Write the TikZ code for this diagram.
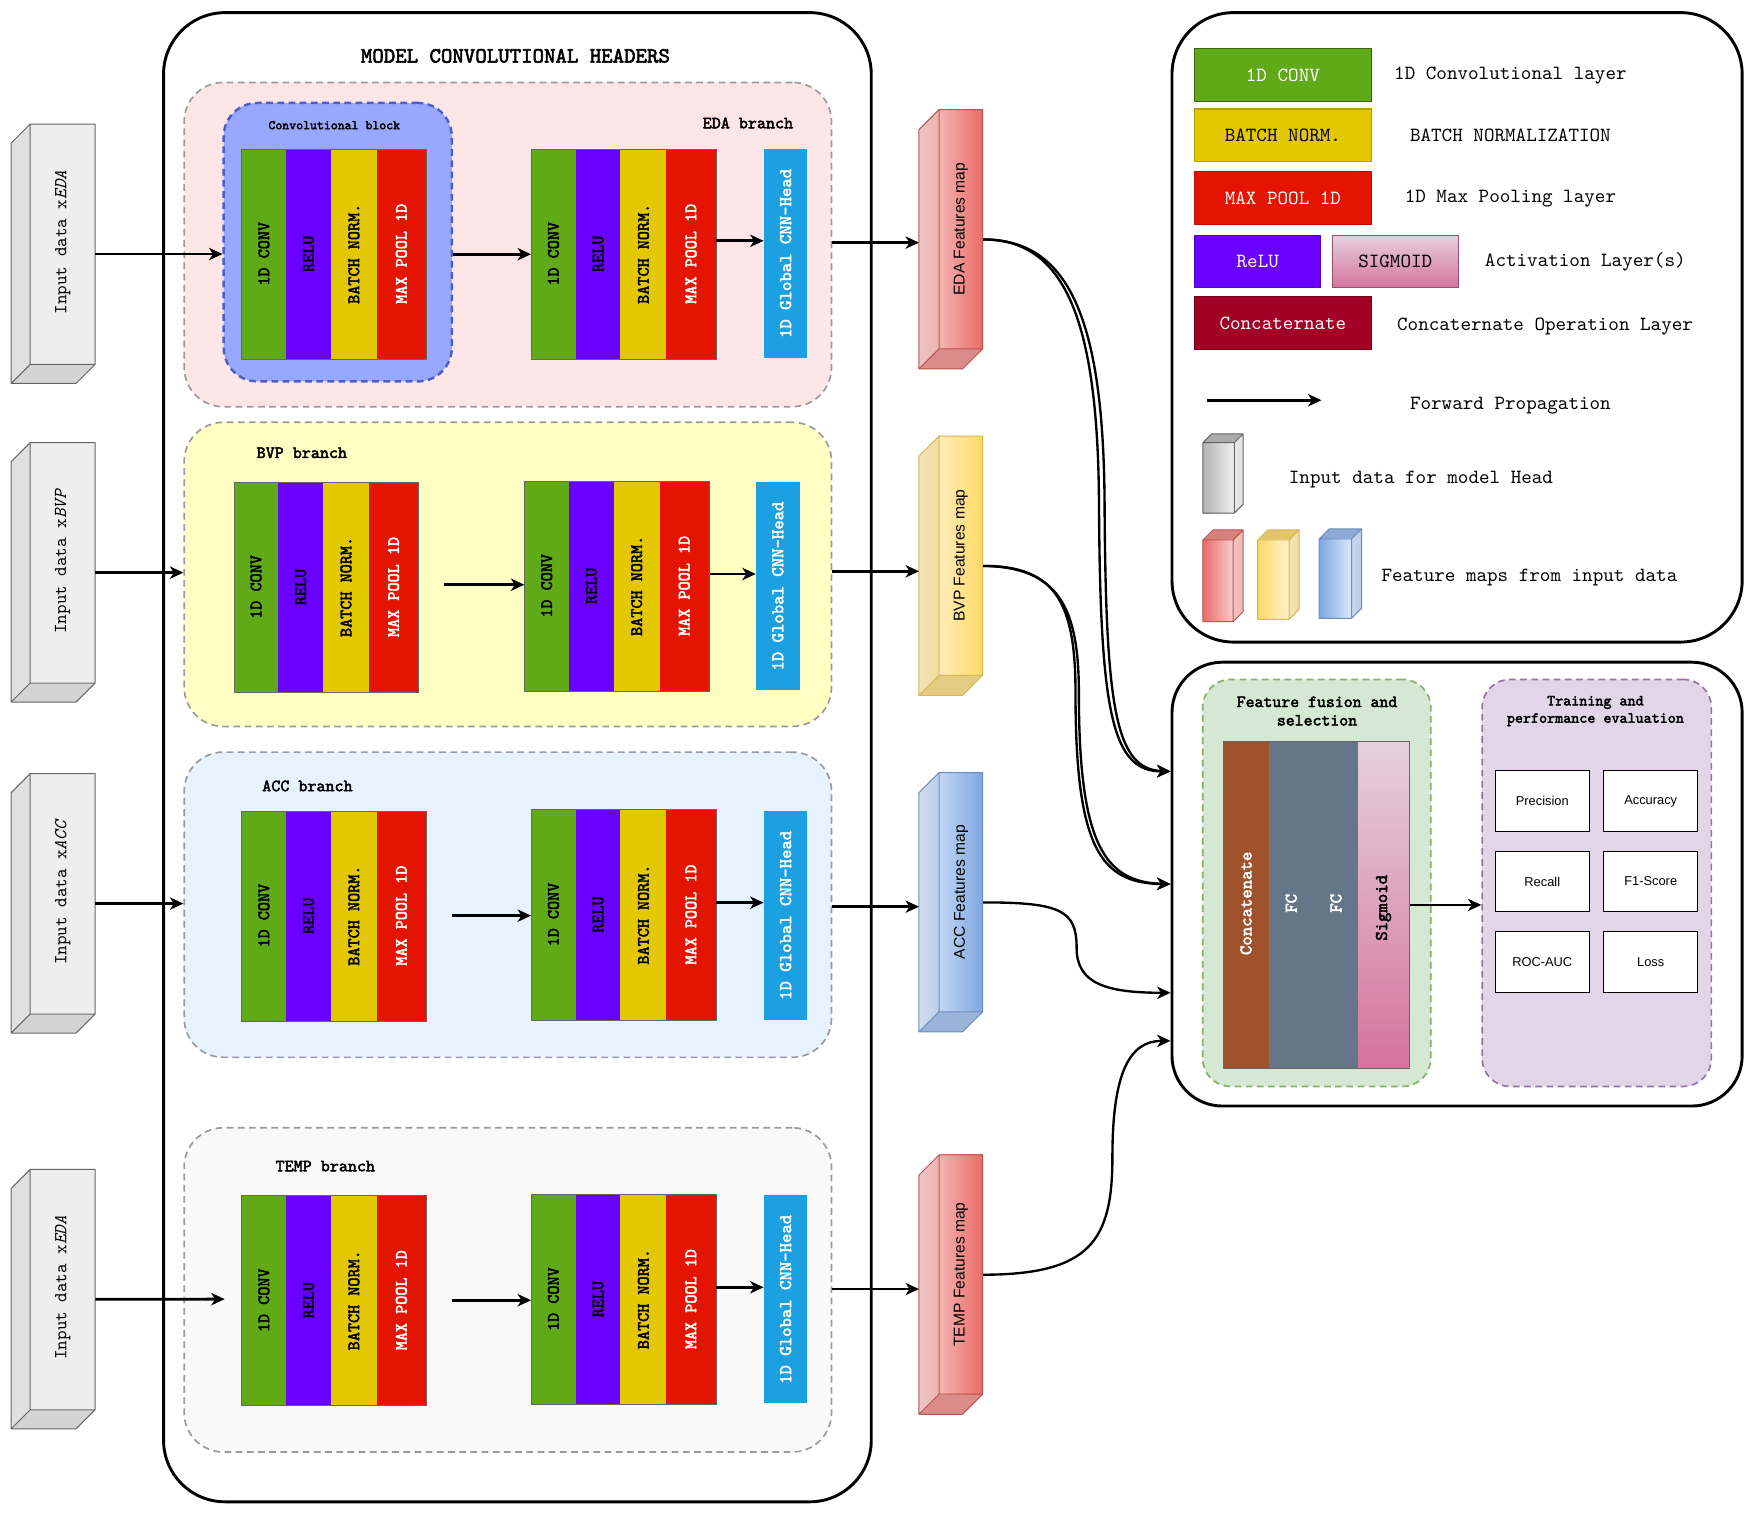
\documentclass[tikz,border=0pt]{standalone}
\usepackage{fontspec}
\newfontfamily\mono{lmmono10-regular.otf}[BoldFont=lmmono10-regular.otf,BoldFeatures={FakeBold=2.6},ItalicFont=lmmono10-italic.otf]
\newfontfamily\arial{Liberation Sans}
\usetikzlibrary{arrows.meta,calc}
\definecolor{cgreen}{HTML}{60A917}
\definecolor{cpurple}{HTML}{6A00FF}
\definecolor{cyellow}{HTML}{E3C800}
\definecolor{cred}{HTML}{E51400}
\definecolor{chead}{HTML}{1BA1E2}
\definecolor{cconcat}{HTML}{A20025}
\definecolor{cbrown}{HTML}{A0522D}
\definecolor{cslate}{HTML}{647687}
\definecolor{csigA}{HTML}{E6D0DE}
\definecolor{csigB}{HTML}{D5739D}
\definecolor{edafill}{HTML}{FFE6E6}
\definecolor{bvpfill}{HTML}{FFFFC4}
\definecolor{accfill}{HTML}{E6F2FF}
\definecolor{tempfill}{HTML}{F9F9F9}
\definecolor{convfill}{HTML}{99A8FF}
\definecolor{convline}{HTML}{4A5FC8}
\definecolor{dashgray}{HTML}{9A9A9A}
\definecolor{fusfill}{HTML}{D5E8D4}
\definecolor{fusline}{HTML}{82B366}
\definecolor{trfill}{HTML}{E1D5E7}
\definecolor{trline}{HTML}{9673A6}
\definecolor{stkline}{HTML}{666666}
\definecolor{redline}{HTML}{B85450}
\definecolor{yelline}{HTML}{D6B656}
\definecolor{bluline}{HTML}{6C8EBF}
\definecolor{grayline}{HTML}{666666}

% cuboid, depth towards lower left
\newcommand\cubeLL[7]{%
 \shade[left color=cubeSL,right color=cubeSR] (#2,#3+#6) -- (#2+#6,#3) -- (#2+#6,#3+#5-#6) -- (#2,#3+#5) -- cycle;
 \fill[cubeB] (#2,#3+#5) -- (#2+#6,#3+#5-#6) -- (#2+#4,#3+#5-#6) -- (#2+#4-#6,#3+#5) -- cycle;
 \shade[left color=cubeFL,right color=cubeFR] (#2+#6,#3) rectangle (#2+#4,#3+#5-#6);
 \draw[#7,line width=0.9pt,line join=round] (#2,#3+#6) -- (#2+#6,#3) -- (#2+#4,#3) -- (#2+#4,#3+#5-#6) -- (#2+#4-#6,#3+#5) -- (#2,#3+#5) -- cycle
   (#2+#6,#3) -- (#2+#6,#3+#5-#6) -- (#2+#4,#3+#5-#6) (#2+#6,#3+#5-#6) -- (#2,#3+#5);
 \node[anchor=north west,minimum width=#4pt,minimum height=#5pt,inner sep=0] (#1) at (#2,#3) {};
}
% cuboid, depth towards upper right
\newcommand\cubeUR[7]{%
 \fill[cubeB] (#2,#3+#6) -- (#2+#6,#3) -- (#2+#4,#3) -- (#2+#4-#6,#3+#6) -- cycle;
 \shade[left color=cubeSL,right color=cubeSR] (#2+#4-#6,#3+#6) -- (#2+#4,#3) -- (#2+#4,#3+#5-#6) -- (#2+#4-#6,#3+#5) -- cycle;
 \shade[left color=cubeFL,right color=cubeFR] (#2,#3+#6) rectangle (#2+#4-#6,#3+#5);
 \draw[#7,line width=0.9pt,line join=round] (#2,#3+#6) -- (#2+#6,#3) -- (#2+#4,#3) -- (#2+#4,#3+#5-#6) -- (#2+#4-#6,#3+#5) -- (#2,#3+#5) -- cycle
   (#2,#3+#6) -- (#2+#4-#6,#3+#6) -- (#2+#4,#3) (#2+#4-#6,#3+#6) -- (#2+#4-#6,#3+#5);
 \node[anchor=north west,minimum width=#4pt,minimum height=#5pt,inner sep=0] (#1) at (#2,#3) {};
}
% conv layer stack
\newcommand\layerstack[3]{%
 \begin{scope}[shift={(#2,#3)}]
  \fill[cgreen] (0,0) rectangle (40,188);
  \fill[cpurple] (40,0) rectangle (80,188);
  \fill[cyellow] (80,0) rectangle (121,188);
  \fill[cred] (121,0) rectangle (165,188);
  \node[lbl,text=black] (#1-1) at (20,94) {1D CONV};
  \node[lbl,text=black] (#1-2) at (60,94) {RELU};
  \node[lbl,text=black] (#1-3) at (100.5,94) {BATCH NORM.};
  \node[lbl,text=white] (#1-4) at (143,94) {MAX POOL 1D};
  \node[stackframe] (#1) at (0,0) {};
 \end{scope}}
\newcommand\headbox[4]{%
 \node[headst,minimum height=#4pt] (#1) at (#2,#3) {};
 \node[lbl,text=white,font=\mono\bfseries\fontsize{16}{18}\selectfont] (#1-t) at (#1.center) {1D Global CNN-Head};}

\begin{document}
\begin{tikzpicture}[x=1pt,y=-1pt,
 fwd/.style={line width=2.5pt,-{Stealth[length=12pt,width=11pt,inset=3.5pt]}},
 curv/.style={line width=2.1pt,-{Stealth[length=12pt,width=11pt,inset=3.5pt]}},
 bigbox/.style={draw=black,line width=2.6pt,rounded corners=55pt,anchor=north west,inner sep=0},
 grp/.style={draw=dashgray,line width=1.5pt,dash pattern=on 6pt off 4pt,rounded corners=35pt,anchor=north west,inner sep=0},
 lbl/.style={rotate=90,font=\mono\bfseries\fontsize{15.5}{17}\selectfont,inner sep=0},
 stackframe/.style={draw=stkline,line width=0.8pt,anchor=north west,minimum width=165pt,minimum height=188pt,inner sep=0},
 headst/.style={fill=chead,anchor=north west,minimum width=39pt,inner sep=0},
 brlbl/.style={font=\mono\bfseries\fontsize{15.4}{17}\selectfont,inner sep=0},
 legbox/.style={anchor=north west,minimum width=158pt,minimum height=47pt,inner sep=0,line width=1pt,font=\mono\fontsize{18}{20}\selectfont},
 legtxt/.style={font=\mono\fontsize{18}{20}\selectfont,inner sep=0},
 maptxt/.style={rotate=90,font=\arial\fontsize{14}{16}\selectfont,inner sep=0},
 intxt/.style={rotate=90,font=\mono\fontsize{16.3}{18}\selectfont,inner sep=0},
 metric/.style={draw=black,fill=white,line width=1pt,minimum width=84pt,minimum height=54pt,anchor=north west,font=\arial\fontsize{11.5}{13}\selectfont,inner sep=0},
]
\useasboundingbox (0,0) rectangle (1568,1354);
\fill[white] (0,0) rectangle (1568,1354);

% ---------------- main box ----------------
\node[bigbox,minimum width=633pt,minimum height=1332pt] (outer) at (145,10) {};
\node[font=\mono\bfseries\fontsize{19.5}{21}\selectfont,inner sep=0] (title) at (461,50) {MODEL CONVOLUTIONAL HEADERS};

% branch groups
\node[grp,fill=edafill,minimum width=579pt,minimum height=290pt] (eb) at (164,73) {};
\node[grp,fill=bvpfill,minimum width=579pt,minimum height=272pt] (bb) at (164,377) {};
\node[grp,fill=accfill,minimum width=579pt,minimum height=273pt] (ab) at (164,672) {};
\node[grp,fill=tempfill,minimum width=579pt,minimum height=290pt] (tb) at (164,1008) {};

\node[draw=convline,fill=convfill,line width=2.2pt,dash pattern=on 6pt off 4pt,rounded corners=30pt,anchor=north west,minimum width=204pt,minimum height=249pt,inner sep=0] (cb) at (199,91) {};
\node[font=\mono\bfseries\fontsize{11.8}{13}\selectfont,inner sep=0] (cbl) at (299,112) {Convolutional block};

\node[brlbl] (ebl) at (669,110) {EDA branch};
\node[brlbl] (bbl) at (270,405) {BVP branch};
\node[brlbl] (abl) at (275,703) {ACC branch};
\node[brlbl] (tbl) at (291,1043) {TEMP branch};

% stacks
\layerstack{s1a}{216}{133}
\layerstack{s1b}{475}{133}
\layerstack{s2a}{209}{431}
\layerstack{s2b}{469}{430}
\layerstack{s3a}{216}{725}
\layerstack{s3b}{475}{724}
\layerstack{s4a}{216}{1069}
\layerstack{s4b}{475}{1068}
\headbox{h1}{683}{133}{187}
\headbox{h2}{676}{431}{186}
\headbox{h3}{683}{725}{187}
\headbox{h4}{683}{1069}{186}

% input cuboids
\colorlet{cubeSL}{black!12}\colorlet{cubeSR}{black!12}
\colorlet{cubeFL}{black!6.5}\colorlet{cubeFR}{black!6.5}
\colorlet{cubeB}{black!17}
\cubeLL{in1}{10}{111}{75}{232}{17}{grayline}
\cubeLL{in2}{10}{396}{75}{232}{17}{grayline}
\cubeLL{in3}{10}{692}{75}{232}{17}{grayline}
\cubeLL{in4}{10}{1046}{75}{232}{17}{grayline}
\node[intxt] (in1t) at (56,217) {Input data x\textit{EDA}};
\node[intxt] (in2t) at (56,502) {Input data x\textit{BVP}};
\node[intxt] (in3t) at (56,798) {Input data x\textit{ACC}};
\node[intxt] (in4t) at (56,1152) {Input data x\textit{EDA}};

% feature map cuboids
\definecolor{cubeSL}{HTML}{EBC6C5}\definecolor{cubeSR}{HTML}{EFB2B0}
\definecolor{cubeFL}{HTML}{F4B4B2}\definecolor{cubeFR}{HTML}{EA6B66}
\definecolor{cubeB}{HTML}{D98C89}
\cubeLL{fm1}{822}{98}{57}{232}{18}{redline}
\cubeLL{fm4}{822}{1033}{57}{232}{18}{redline}
\definecolor{cubeSL}{HTML}{EFE2B6}\definecolor{cubeSR}{HTML}{F4DE9E}
\definecolor{cubeFL}{HTML}{FFEDBA}\definecolor{cubeFR}{HTML}{FFD966}
\definecolor{cubeB}{HTML}{E4CC82}
\cubeLL{fm2}{822}{390}{57}{232}{18}{yelline}
\definecolor{cubeSL}{HTML}{D2DEEF}\definecolor{cubeSR}{HTML}{BACDEA}
\definecolor{cubeFL}{HTML}{C3D6F4}\definecolor{cubeFR}{HTML}{7EA6E0}
\definecolor{cubeB}{HTML}{9AB3D8}
\cubeLL{fm3}{822}{691}{57}{232}{18}{bluline}
\node[maptxt] (fm1t) at (859.5,205) {EDA Features map};
\node[maptxt] (fm2t) at (859.5,497) {BVP Features map};
\node[maptxt] (fm3t) at (859.5,798) {ACC Features map};
\node[maptxt] (fm4t) at (859.5,1140) {TEMP Features map};

% arrows in branches
\coordinate (b12) at (397,523);
\coordinate (a12) at (404,819);
\coordinate (t12) at (404,1163);
\coordinate (t0) at (201,1162);
\coordinate (e1) at ([yshift=12pt]s1b.east);
\coordinate (e2) at ([yshift=11pt]s2b.east);
\coordinate (e3) at ([yshift=11pt]s3b.east);
\coordinate (e4) at ([yshift=11pt]s4b.east);
\draw[fwd] (in1.east) -- (cb.west |- in1.east);
\draw[fwd] (cb.east |- s1b.west) -- (s1b.west);
\draw[fwd] (e1) -- (h1.west |- e1);
\draw[fwd] (eb.east |- 0,217) -- (fm1.west |- 0,217);

\draw[fwd] (in2.east) -- (bb.west |- in2.east);
\draw[fwd] (b12) -- (s2b.west |- b12);
\draw[fwd] (e2) -- (h2.west |- e2);
\draw[fwd] (bb.east |- 0,511) -- (fm2.west |- 0,511);

\draw[fwd] (in3.east) -- (ab.west |- in3.east);
\draw[fwd] (a12) -- (s3b.west |- a12);
\draw[fwd] (e3) -- (h3.west |- e3);
\draw[fwd] (ab.east |- 0,811) -- (fm3.west |- 0,811);

\draw[fwd] (in4.east) -- (t0);
\draw[fwd] (t12) -- (s4b.west |- t12);
\draw[fwd] (e4) -- (h4.west |- e4);
\draw[fwd] (tb.east |- 0,1153) -- (fm4.west |- 0,1153);

% ---------------- legend ----------------
\node[bigbox,minimum width=510pt,minimum height=563pt] (lb) at (1047,10) {};
\node[legbox,fill=cgreen,draw=cgreen!60!black,text=white] (l1) at (1068,43) {1D CONV};
\node[legbox,fill=cyellow,draw=cyellow!80!black,text=black] (l2) at (1068,97) {BATCH NORM.};
\node[legbox,fill=cred,draw=cred!80!black,text=white] (l3) at (1068,153) {MAX POOL 1D};
\node[legbox,fill=cpurple,draw=cpurple!80!black,text=white,minimum width=113pt] (l4) at (1068,210) {ReLU};
\node[legbox,top color=csigA,bottom color=csigB,draw=csigB!70!black,text=black,minimum width=113pt] (l5) at (1191,210) {SIGMOID};
\node[legbox,fill=cconcat,draw=cconcat!70!black,text=white] (l6) at (1068,265) {Concaternate};
\node[legtxt] (t1) at (1351,68) {1D Convolutional layer};
\node[legtxt] (t2) at (1351,121) {BATCH NORMALIZATION};
\node[legtxt] (t3) at (1351,178) {1D Max Pooling layer};
\node[legtxt] (t4) at (1418,234) {Activation Layer(s)};
\node[legtxt] (t5) at (1382,292) {Concaternate Operation Layer};
\node[legtxt] (t6) at (1351,363) {Forward Propagation};
\node[legtxt] (t7) at (1271,429) {Input data for model Head};
\node[legtxt] (t8) at (1368,517) {Feature maps from input data};
\coordinate (la1) at (1080,358);
\coordinate (la2) at (1182,358);
\draw[fwd] (la1) -- (la2);

\definecolor{cubeFL}{HTML}{B3B3B3}\definecolor{cubeFR}{HTML}{F2F2F2}
\definecolor{cubeSL}{HTML}{E8E8E8}\definecolor{cubeSR}{HTML}{E2E2E2}
\definecolor{cubeB}{HTML}{ABABAB}
\cubeUR{lg}{1076}{388}{36}{71}{8}{grayline}
\definecolor{cubeFL}{HTML}{EA6B66}\definecolor{cubeFR}{HTML}{F8CECC}
\definecolor{cubeSL}{HTML}{F3C3C1}\definecolor{cubeSR}{HTML}{EFB5B3}
\definecolor{cubeB}{HTML}{D6817E}
\cubeUR{lr}{1076}{474}{36}{82}{9}{redline}
\definecolor{cubeFL}{HTML}{FFD966}\definecolor{cubeFR}{HTML}{FFF2CC}
\definecolor{cubeSL}{HTML}{F4E3B3}\definecolor{cubeSR}{HTML}{F0DCA2}
\definecolor{cubeB}{HTML}{E3C36B}
\cubeUR{ly}{1125}{474}{37}{80}{9}{yelline}
\definecolor{cubeFL}{HTML}{7EA6E0}\definecolor{cubeFR}{HTML}{DAE8FC}
\definecolor{cubeSL}{HTML}{C8D7EE}\definecolor{cubeSR}{HTML}{BCCDEA}
\definecolor{cubeB}{HTML}{8DA9D6}
\cubeUR{lbu}{1180}{473}{38}{80}{9}{bluline}

% ---------------- fusion / training ----------------
\node[bigbox,rounded corners=45pt,minimum width=510pt,minimum height=397pt] (fb) at (1047,591) {};
\node[grp,draw=fusline,fill=fusfill,rounded corners=25pt,minimum width=204pt,minimum height=364pt] (fg) at (1075,607) {};
\node[grp,draw=trline,fill=trfill,rounded corners=25pt,minimum width=205pt,minimum height=364pt] (tg) at (1325,607) {};
\node[font=\mono\bfseries\fontsize{15.2}{16.5}\selectfont,align=center,inner sep=0] (fgl) at (1178,636) {Feature fusion and\\selection};
\node[font=\mono\bfseries\fontsize{13.7}{15.5}\selectfont,align=center,inner sep=0] (tgl) at (1427,636) {Training and\\performance evaluation};

\fill[cbrown] (1094,663) rectangle (1135,955);
\fill[cslate] (1135,663) rectangle (1215,955);
\shade[top color=csigA,bottom color=csigB] (1215,663) rectangle (1260,955);
\node[lbl,text=white,font=\mono\bfseries\fontsize{16}{18}\selectfont] (fc0) at (1114.5,808) {Concatenate};
\node[lbl,text=white,font=\mono\bfseries\fontsize{16}{18}\selectfont] (fc1) at (1155,808) {FC};
\node[lbl,text=white,font=\mono\bfseries\fontsize{16}{18}\selectfont] (fc2) at (1195,808) {FC};
\node[lbl,text=black,font=\mono\bfseries\fontsize{16}{18}\selectfont] (fc3) at (1237.5,812) {Sigmoid};
\node[draw=stkline,line width=0.8pt,anchor=north west,minimum width=166pt,minimum height=292pt,inner sep=0] (fs) at (1094,663) {};
\draw[fwd] (fs.east) -- (tg.west |- fs.east);

\node[metric] (m1) at (1337,689) {Precision};
\node[metric] (m2) at (1434,689) {Accuracy};
\node[metric] (m3) at (1337,761) {Recall};
\node[metric] (m4) at (1434,761) {F1-Score};
\node[metric] (m5) at (1337,833) {ROC-AUC};
\node[metric] (m6) at (1434,833) {Loss};

% ---------------- curved connectors ----------------
\draw[curv] (fm1.east) .. controls (952,214) and (982,285) .. (983,450) .. controls (984,640) and (995,690) .. (fb.west |- 0,690);
\draw[curv] (fm1.east) .. controls (956,214) and (987,285) .. (988,450) .. controls (989,635) and (998,688) .. (fb.west |- 0,690);
\draw[curv] (fm2.east) .. controls (945,506) and (962,540) .. (962,620) .. controls (962,760) and (985,790) .. (fb.west);
\draw[curv] (fm2.east) .. controls (948,507) and (965,545) .. (965,620) .. controls (965,755) and (988,789) .. (fb.west);
\draw[curv] (fm3.east) .. controls (950,807) and (963,815) .. (963,848) .. controls (963,880) and (990,888) .. (fb.west |- 0,888);
\draw[curv] ([yshift=9pt]fm4.east) .. controls (975,1140) and (995,1110) .. (995,1035) .. controls (995,960) and (1010,931) .. (fb.west |- 0,931);
\end{tikzpicture}
\end{document}
